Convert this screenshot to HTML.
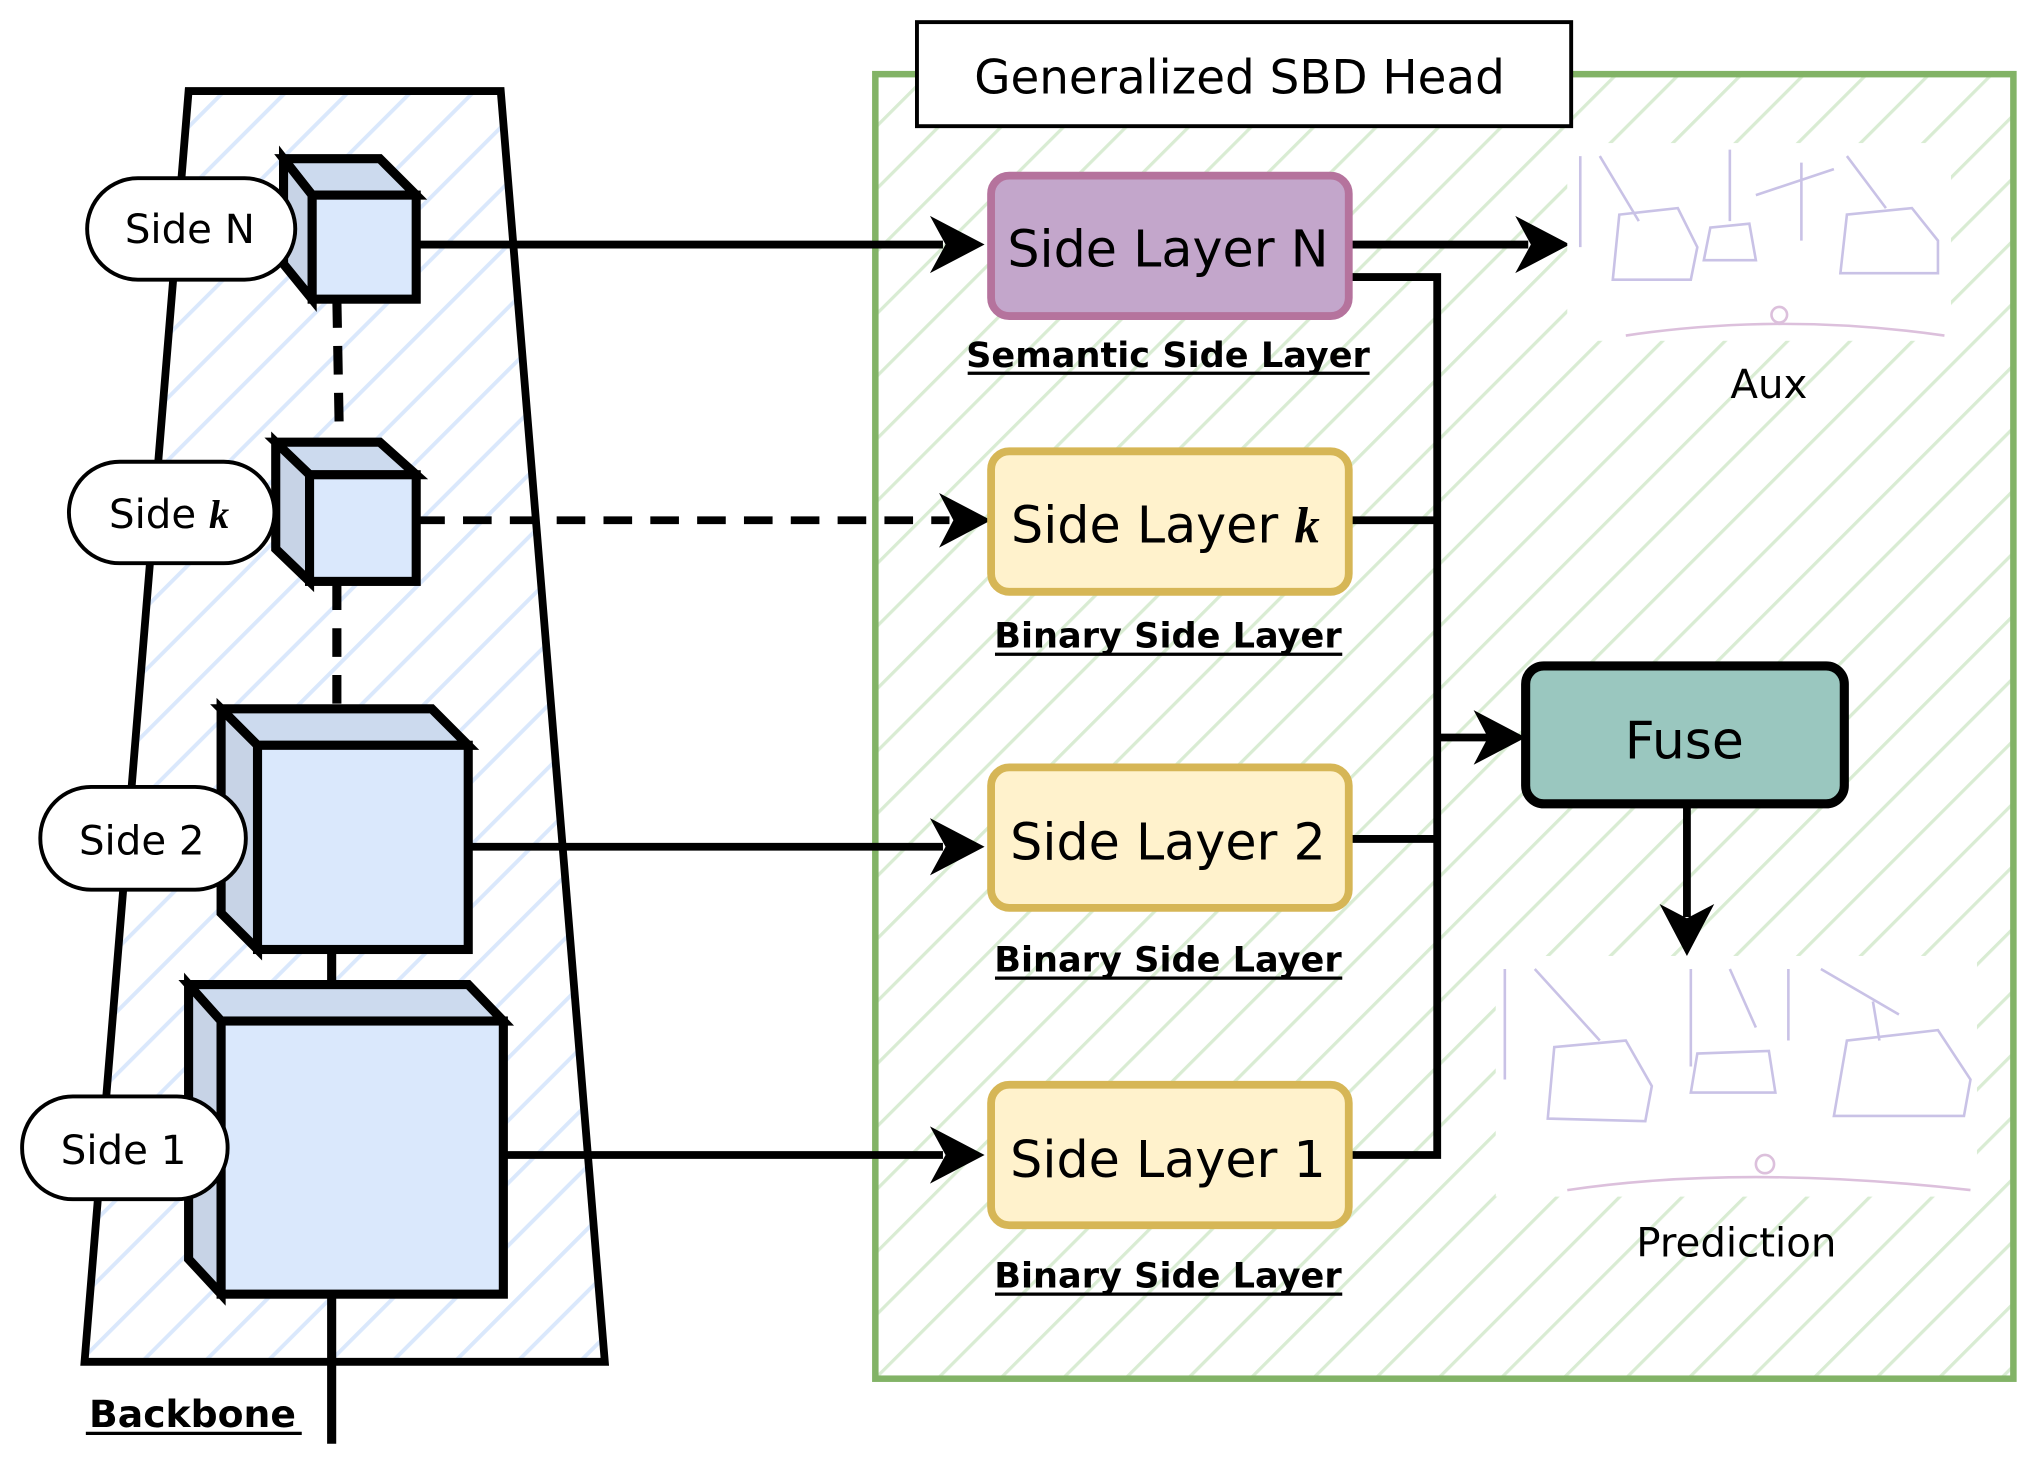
<!DOCTYPE html>
<html><head><meta charset="utf-8"><style>
html,body{margin:0;padding:0;background:#fff}
svg{display:block}
text{font-family:"DejaVu Sans","Liberation Sans",sans-serif}
</style></head><body>
<svg width="2029" height="1460" viewBox="0 0 1560 1122.5" xmlns="http://www.w3.org/2000/svg">
<defs>
<pattern id="hb" width="34" height="34" patternUnits="userSpaceOnUse" patternTransform="rotate(45)">
<line x1="0" y1="0" x2="0" y2="34" stroke="#dae8fc" stroke-width="6"/></pattern>
<pattern id="hg" width="34" height="34" patternUnits="userSpaceOnUse" patternTransform="rotate(45)">
<line x1="0" y1="0" x2="0" y2="34" stroke="#d9ecd3" stroke-width="5"/></pattern>
</defs>
<rect x="673" y="57" width="875" height="1003" fill="url(#hg)" stroke="#82b366" stroke-width="5"/>
<rect x="705" y="17" width="503" height="80" fill="#fff" stroke="#000" stroke-width="3"/>
<text x="953" y="72" font-size="36" text-anchor="middle">Generalized SBD Head</text>
<polygon points="145,70 385,70 465,1047 65,1047" fill="url(#hb)" stroke="#000" stroke-width="6"/>
<text x="148" y="1097" font-size="29" font-weight="bold" text-anchor="middle">Backbone</text>
<line x1="66" y1="1102" x2="232" y2="1102" stroke="#000" stroke-width="2.5"/>
<line x1="259" y1="230" x2="261" y2="340" stroke="#000" stroke-width="7" stroke-dasharray="22,14"/>
<line x1="259" y1="447" x2="259" y2="545" stroke="#000" stroke-width="7" stroke-dasharray="22,14"/>
<line x1="255" y1="730" x2="255" y2="757" stroke="#000" stroke-width="7"/>
<line x1="255" y1="995" x2="255" y2="1110" stroke="#000" stroke-width="7"/>
<g stroke="#000" stroke-width="7" stroke-linejoin="miter">
<path d="M218,122 L292,122 L320,150 L240,150 Z" fill="#ccdaee"/><path d="M218,122 L240,150 L240,230 L218,203 Z" fill="#c7d3e6"/><rect x="240" y="150" width="80" height="80" fill="#dae8fc"/>
<path d="M212,340 L292,340 L320,365 L238,365 Z" fill="#ccdaee"/><path d="M212,340 L238,365 L238,447 L212,422 Z" fill="#c7d3e6"/><rect x="238" y="365" width="82" height="82" fill="#dae8fc"/>
<path d="M170,545 L332,545 L360,573 L198,573 Z" fill="#ccdaee"/><path d="M170,545 L198,573 L198,730 L170,702 Z" fill="#c7d3e6"/><rect x="198" y="573" width="162" height="157" fill="#dae8fc"/>
<path d="M145,757 L360,757 L387,785 L170,785 Z" fill="#ccdaee"/><path d="M145,757 L170,785 L170,995 L145,968 Z" fill="#c7d3e6"/><rect x="170" y="785" width="217" height="210" fill="#dae8fc"/>
</g>
<g stroke="#000" stroke-width="3" fill="#fff">
<rect x="67" y="137" width="160" height="78" rx="39"/>
<rect x="53" y="355" width="158" height="78" rx="39"/>
<rect x="31" y="605" width="158" height="79" rx="39"/>
<rect x="17" y="843" width="158" height="79" rx="39"/>
</g>
<g font-size="31" text-anchor="middle">
<text x="146" y="187">Side N</text>
<text x="130" y="406">Side <tspan font-family="Liberation Serif" font-style="italic" font-weight="bold">k</tspan></text>
<text x="109" y="657">Side 2</text>
<text x="95" y="895">Side 1</text>
</g>
<g stroke="#000" stroke-width="6" fill="none">
<line x1="320" y1="188" x2="725" y2="188"/>
<line x1="320" y1="400" x2="730" y2="400" stroke-dasharray="22,14"/>
<line x1="360" y1="651" x2="725" y2="651"/>
<line x1="387" y1="888" x2="725" y2="888"/>
<line x1="1037" y1="188" x2="1175" y2="188"/>
<polyline points="1037,213 1105,213 1105,888 1037,888"/>
<line x1="1037" y1="400" x2="1105" y2="400"/>
<line x1="1037" y1="645" x2="1105" y2="645"/>
<line x1="1105" y1="567" x2="1145" y2="567"/>
<line x1="1297" y1="618" x2="1297" y2="705"/>
</g>
<g fill="#000">
<polygon points="757,188 715,166 727,188 715,210"/>
<polygon points="762,400 722,379 733,400 722,421"/>
<polygon points="757,651 715,629 727,651 715,673"/>
<polygon points="757,888 715,866 727,888 715,910"/>
<polygon points="1207,188 1165,166 1177,188 1165,210"/>
<polygon points="1173,567 1133,546 1144,567 1133,588"/>
<polygon points="1297,735 1276,695 1297,706 1318,695"/>
</g>
<rect x="762" y="135" width="275" height="108" rx="14" fill="#c3a6cb" stroke="#b5739d" stroke-width="6"/>
<rect x="762" y="347" width="275" height="108" rx="14" fill="#fff2cc" stroke="#d6b656" stroke-width="6"/>
<rect x="762" y="590" width="275" height="108" rx="14" fill="#fff2cc" stroke="#d6b656" stroke-width="6"/>
<rect x="762" y="834" width="275" height="108" rx="14" fill="#fff2cc" stroke="#d6b656" stroke-width="6"/>
<g font-size="39" text-anchor="middle">
<text x="898" y="205">Side Layer N</text>
<text x="896" y="417">Side Layer <tspan font-family="Liberation Serif" font-style="italic" font-weight="bold">k</tspan></text>
<text x="898" y="661">Side Layer 2</text>
<text x="898" y="905">Side Layer 1</text>
</g>
<g font-size="27" font-weight="bold" text-anchor="middle">
<text x="898" y="282">Semantic Side Layer</text>
<text x="898" y="498">Binary Side Layer</text>
<text x="898" y="747">Binary Side Layer</text>
<text x="898" y="990">Binary Side Layer</text>
</g>
<g stroke="#000" stroke-width="2.5">
<line x1="744" y1="287" x2="1053" y2="287"/>
<line x1="765" y1="503" x2="1032" y2="503"/>
<line x1="765" y1="752" x2="1032" y2="752"/>
<line x1="765" y1="995" x2="1032" y2="995"/>
</g>
<rect x="1173" y="512" width="245" height="106" rx="14" fill="#9ac7bf" stroke="#000" stroke-width="7"/>
<text x="1295" y="583" font-size="40" text-anchor="middle">Fuse</text>
<rect x="1205" y="110" width="295" height="152" fill="#fff"/>
<g fill="none" stroke="#c9c2e6" stroke-width="2">
<path d="M1240,215 L1245,165 L1290,160 L1305,190 L1300,215 Z"/><path d="M1415,210 L1420,165 L1470,160 L1490,185 L1490,210 Z"/>
<path d="M1310,200 L1315,175 L1345,172 L1350,200 Z"/>
<path d="M1250,258 Q1370,240 1495,258" stroke="#dcc0dc"/><circle cx="1368" cy="242" r="6" stroke="#dcc0dc"/>
<path d="M1215,120 L1215,190 M1230,120 L1260,170 M1330,115 L1330,170 M1350,150 L1410,130 M1385,125 L1385,185 M1420,120 L1450,160"/>
</g>
<rect x="1150" y="735" width="370" height="185" fill="#fff"/>
<g fill="none" stroke="#c9c2e6" stroke-width="2">
<path d="M1190,860 L1195,805 L1250,800 L1270,835 L1265,862 Z"/><path d="M1410,858 L1420,800 L1490,792 L1515,830 L1510,858 Z"/>
<path d="M1300,840 L1305,810 L1360,808 L1365,840 Z"/>
<path d="M1205,915 Q1340,895 1515,915" stroke="#dcc0dc"/><circle cx="1357" cy="895" r="7" stroke="#dcc0dc"/>
<path d="M1157,745 L1157,830 M1180,745 L1230,800 M1300,745 L1300,820 M1330,745 L1350,790 M1400,745 L1460,780 M1375,745 L1375,800 M1440,770 L1445,800"/>
</g>
<text x="1360" y="306" font-size="31" text-anchor="middle">Aux</text>
<text x="1335" y="966" font-size="31" text-anchor="middle">Prediction</text>
</svg>
</body></html>
